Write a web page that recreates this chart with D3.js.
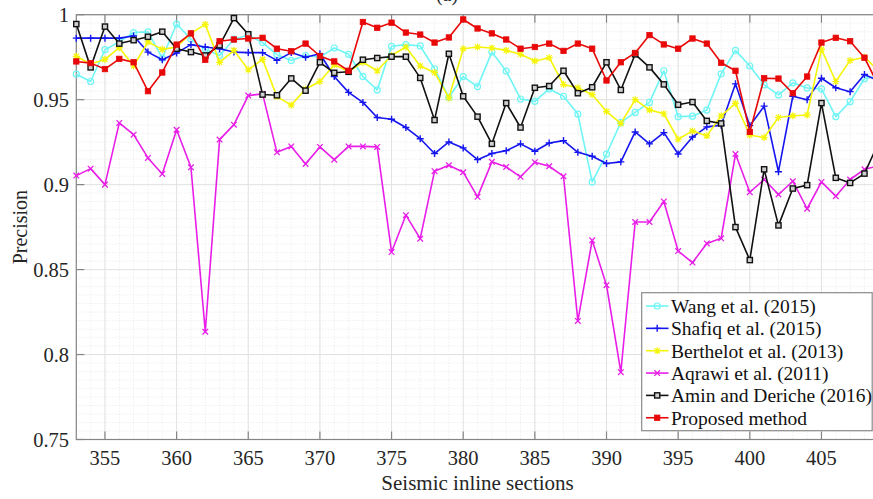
<!DOCTYPE html>
<html>
<head>
<meta charset="utf-8">
<script src="https://cdn.jsdelivr.net/npm/d3@7/dist/d3.min.js"></script>
<style>
body{margin:0;background:#fff;}
</style>
</head>
<body>
<div id="chartContainer"></div>
<script>
// inline sections 353..409 (409 falls just past the right edge)
const sections=d3.range(353,410);
const xTicks=[355,360,365,370,375,380,385,390,395,400,405];
const yTicks=[0.75,0.8,0.85,0.9,0.95,1];
const yTickLabels=["0.75","0.8","0.85","0.9","0.95","1"];

const wang=[0.965,0.9607,0.9794,0.984,0.9895,0.9899,0.9745,0.9945,0.9856,0.9796,0.976,0.9856,0.988,0.9836,
  0.9765,0.973,0.976,0.975,0.9804,0.9767,0.9636,0.9557,0.9814,0.9824,0.9816,0.9682,0.9514,0.9636,
  0.9577,0.978,0.9668,0.9504,0.949,0.9563,0.952,0.9415,0.9016,0.918,0.9366,0.9425,0.9484,0.967,
  0.940,0.9403,0.9439,0.9652,0.979,0.9698,0.9587,0.9528,0.9599,0.9569,0.9563,0.940,0.9488,0.9623,0.964];
const shafiq=[0.9862,0.9862,0.9862,0.9862,0.9875,0.978,0.9735,0.9775,0.9824,0.981,0.980,0.978,0.9777,0.9777,
  0.9731,0.9777,0.975,0.977,0.9636,0.9543,0.9484,0.9395,0.9385,0.9336,0.927,0.9183,0.9251,0.9216,
  0.9147,0.9183,0.92,0.924,0.9196,0.9245,0.9259,0.919,0.9167,0.9124,0.9134,0.931,0.924,0.9306,
  0.918,0.928,0.934,0.935,0.9593,0.9347,0.9462,0.9076,0.952,0.950,0.9626,0.957,0.9547,0.9648,0.961];
const berthelot=[0.9755,0.971,0.9737,0.9806,0.9698,0.984,0.9796,0.981,0.989,0.9943,0.972,0.979,0.9676,0.9737,
  0.9518,0.9468,0.9563,0.9607,0.9705,0.9666,0.972,0.967,0.976,0.981,0.9698,0.966,0.951,0.980,
  0.981,0.9804,0.979,0.9767,0.9727,0.9747,0.9589,0.957,0.953,0.943,0.936,0.95,0.944,0.9417,
  0.9267,0.9316,0.9287,0.9405,0.9478,0.9292,0.9277,0.9395,0.9405,0.941,0.9796,0.9607,0.9731,0.975,0.967];
const aqrawi=[0.9053,0.9094,0.900,0.9363,0.9294,0.9157,0.9063,0.9323,0.9102,0.8134,0.9265,0.9353,0.9524,0.9534,
  0.919,0.9225,0.9122,0.9222,0.9147,0.9225,0.9225,0.9222,0.8603,0.882,0.8682,0.9079,0.9114,0.9073,
  0.8928,0.9134,0.9104,0.9046,0.9132,0.9108,0.9049,0.8198,0.8672,0.8408,0.7896,0.878,0.878,0.8901,
  0.8609,0.8541,0.8654,0.8684,0.918,0.8955,0.903,0.8942,0.902,0.8858,0.9016,0.8932,0.903,0.909,0.911];
const amin=[0.9945,0.969,0.993,0.983,0.985,0.987,0.990,0.980,0.978,0.976,0.982,0.998,0.9885,0.953,
  0.9526,0.9625,0.9553,0.972,0.9658,0.9664,0.9735,0.9745,0.9753,0.9753,0.9628,0.938,0.977,0.952,
  0.940,0.924,0.948,0.9336,0.957,0.958,0.967,0.9538,0.9573,0.972,0.9557,0.9767,0.969,0.959,
  0.947,0.9486,0.9375,0.936,0.875,0.8556,0.909,0.876,0.8977,0.8997,0.948,0.904,0.901,0.9065,0.925];
const proposed=[0.9725,0.9715,0.968,0.974,0.972,0.955,0.966,0.9824,0.989,0.9735,0.9844,0.9854,0.986,0.9864,
  0.980,0.9785,0.983,0.9757,0.9725,0.967,0.9957,0.9923,0.9953,0.9895,0.9883,0.9836,0.9866,0.9972,
  0.9919,0.989,0.9854,0.980,0.981,0.983,0.9787,0.983,0.980,0.9613,0.972,0.9775,0.988,0.9825,
  0.980,0.986,0.983,0.9717,0.967,0.931,0.9626,0.9624,0.9538,0.9636,0.9836,0.9864,0.9844,0.9747,0.958];

const seriesNames=["Wang et al. (2015)","Shafiq et al. (2015)","Berthelot et al. (2013)","Aqrawi et al. (2011)","Amin and Deriche (2016)","Proposed method"];
const seriesColors=["#6ff5f5","#1515f0","#f5f50a","#e81ee8","#111111","#e80808"];
const seriesMarkers=["circle","plus","star","cross","square","filled"];
const seriesValues=[wang,shafiq,berthelot,aqrawi,amin,proposed];

const W=873,H=499;
const FONT='"Liberation Serif"';
const plotLeft=76.3,plotTop=14.7,plotBottom=439.5;
const x=d3.scaleLinear().domain([353,409]).range([plotLeft,plotLeft+56*14.33]);
const y=d3.scaleLinear().domain([0.75,1]).range([plotBottom,plotTop]);
const plotRight=x(409);

const svg=d3.select("#chartContainer").append("svg")
    .attr("width",W).attr("height",H);

// minor grid
const grid=svg.append("g");
grid.selectAll(".mx").data(d3.range(353,410)).enter().append("line")
    .attr("x1",d=>x(d)).attr("x2",d=>x(d)).attr("y1",plotTop).attr("y2",plotBottom)
    .attr("stroke","#dedede").attr("stroke-width",0.7).attr("stroke-dasharray","1,2");
grid.selectAll(".my").data(d3.range(0,51).map(i=>0.75+i*0.005)).enter().append("line")
    .attr("x1",plotLeft).attr("x2",plotRight).attr("y1",d=>y(d)).attr("y2",d=>y(d))
    .attr("stroke","#dedede").attr("stroke-width",0.7).attr("stroke-dasharray","1,2");
// major grid
grid.selectAll(".gx").data(xTicks).enter().append("line")
    .attr("x1",d=>x(d)).attr("x2",d=>x(d)).attr("y1",plotTop).attr("y2",plotBottom)
    .attr("stroke","#e2e2e2").attr("stroke-width",1);
grid.selectAll(".gy").data(yTicks).enter().append("line")
    .attr("x1",plotLeft).attr("x2",plotRight).attr("y1",d=>y(d)).attr("y2",d=>y(d))
    .attr("stroke","#e2e2e2").attr("stroke-width",1);

// frame and inward ticks
const frame=svg.append("g").attr("stroke","#858585").attr("stroke-width",1.2);
frame.append("rect").attr("x",plotLeft).attr("y",plotTop).attr("width",plotRight-plotLeft).attr("height",plotBottom-plotTop).attr("fill","none");
xTicks.forEach(t=>{
  frame.append("line").attr("x1",x(t)).attr("x2",x(t)).attr("y1",plotBottom).attr("y2",plotBottom-8);
  frame.append("line").attr("x1",x(t)).attr("x2",x(t)).attr("y1",plotTop).attr("y2",plotTop+8);
});
yTicks.forEach(t=>{
  frame.append("line").attr("x1",plotLeft).attr("x2",plotLeft+8).attr("y1",y(t)).attr("y2",y(t));
});

// tick labels
svg.selectAll(".xl").data(xTicks).enter().append("text")
    .attr("x",d=>x(d)).attr("y",465).attr("text-anchor","middle")
    .style("font-family",FONT).style("font-size","20.5px").style("fill","#262626").text(d=>d);
svg.selectAll(".yl").data(yTicks).enter().append("text")
    .attr("x",69).attr("y",d=>y(d)).attr("dy","0.35em").attr("text-anchor","end")
    .style("font-family",FONT).style("font-size","20.5px").style("fill","#262626").text((d,i)=>yTickLabels[i]);

svg.append("text").attr("x",(plotLeft+plotRight)/2).attr("y",490).attr("text-anchor","middle")
    .style("font-family",FONT).style("font-size","21px").style("fill","#262626").text("Seismic inline sections");
svg.append("text").attr("transform",`translate(27,${(plotTop+plotBottom)/2}) rotate(-90)`)
    .attr("text-anchor","middle").style("font-family",FONT).style("font-size","20px").style("fill","#262626").text("Precision");
// panel title, mostly above the top edge as in the reference
svg.append("text").attr("x",447).attr("y",1).attr("text-anchor","middle")
    .style("font-family",FONT).style("font-size","20px").style("fill","#262626").text("(a)");

function drawMarker(g,type,color,cx,cy){
  if(type=="circle"){
    g.append("circle").attr("cx",cx).attr("cy",cy).attr("r",3)
      .attr("fill","none").attr("stroke",color).attr("stroke-width",1.2);
  }else if(type=="plus"){
    g.append("path").attr("d",`M${cx-3.5},${cy}H${cx+3.5}M${cx},${cy-3.5}V${cy+3.5}`)
      .attr("stroke",color).attr("stroke-width",1.4);
  }else if(type=="star"){
    g.append("path").attr("d",`M${cx-3.5},${cy}H${cx+3.5}M${cx},${cy-3.5}V${cy+3.5}M${cx-2.6},${cy-2.6}L${cx+2.6},${cy+2.6}M${cx-2.6},${cy+2.6}L${cx+2.6},${cy-2.6}`)
      .attr("stroke",color).attr("stroke-width",1.2);
  }else if(type=="cross"){
    g.append("path").attr("d",`M${cx-2.8},${cy-2.8}L${cx+2.8},${cy+2.8}M${cx-2.8},${cy+2.8}L${cx+2.8},${cy-2.8}`)
      .attr("stroke",color).attr("stroke-width",1.3);
  }else if(type=="square"){
    g.append("rect").attr("x",cx-2.6).attr("y",cy-2.6).attr("width",5.2).attr("height",5.2)
      .attr("fill","#cfcfcf").attr("stroke",color).attr("stroke-width",1.4);
  }else{
    g.append("rect").attr("x",cx-2.7).attr("y",cy-2.7).attr("width",5.4).attr("height",5.4)
      .attr("fill",color).attr("stroke",color).attr("stroke-width",0.8);
  }
}

const line=d3.line().x((d,i)=>x(sections[i])).y(d=>y(d));
seriesValues.forEach((vals,k)=>{
  const g=svg.append("g");
  g.append("path").datum(vals).attr("d",line)
    .attr("fill","none").attr("stroke",seriesColors[k]).attr("stroke-width",1.6)
    .attr("stroke-linejoin","round");
  vals.forEach((v,i)=>drawMarker(g,seriesMarkers[k],seriesColors[k],x(sections[i]),y(v)));
});

// legend
const lg=svg.append("g");
lg.append("rect").attr("x",641.7).attr("y",292.7).attr("width",230.5).attr("height",138)
  .attr("fill","#fff").attr("stroke","#8a8a8a").attr("stroke-width",1.2);
seriesNames.forEach((name,k)=>{
  const cy=306+k*22.35;
  lg.append("line").attr("x1",646).attr("x2",668.5).attr("y1",cy).attr("y2",cy)
    .attr("stroke",seriesColors[k]).attr("stroke-width",1.6);
  drawMarker(lg,seriesMarkers[k],seriesColors[k],657.2,cy);
  lg.append("text").attr("x",671).attr("y",cy).attr("dy","0.35em")
    .style("font-family",FONT).style("font-size","19.5px").style("fill","#111").text(name);
});
</script>
</body>
</html>
